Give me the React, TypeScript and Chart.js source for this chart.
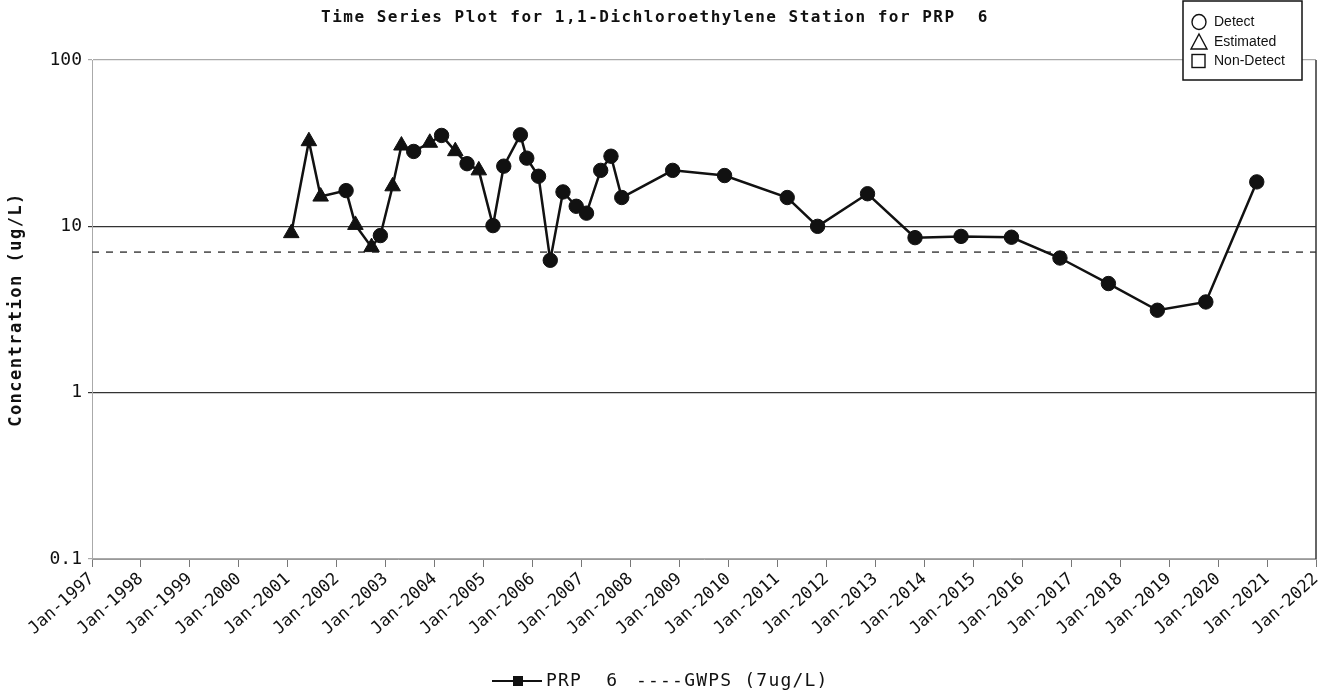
import React, { useEffect, useRef } from 'react';
import { Chart, registerables } from 'chart.js';

Chart.register(...registerables);

const chartTitle = 'Time Series Plot for 1,1-Dichloroethylene Station for PRP  6';
const yAxisTitle = 'Concentration (ug/L)';
const seriesName = 'PRP  6';
const limitName = 'GWPS (7ug/L)';
const qualifierLegend = ['Detect', 'Estimated', 'Non-Detect'];

// sample dates as decimal years
const sampleYears = [
  2001.07, 2001.43, 2001.67, 2002.19, 2002.38, 2002.71, 2002.89, 2003.14,
  2003.32, 2003.57, 2003.9, 2004.14, 2004.42, 2004.66, 2004.9, 2005.19,
  2005.41, 2005.75, 2005.88, 2006.12, 2006.36, 2006.62, 2006.89, 2007.1,
  2007.39, 2007.6, 2007.82, 2008.86, 2009.92, 2011.2, 2011.82, 2012.84,
  2013.81, 2014.75, 2015.78, 2016.77, 2017.76, 2018.76, 2019.75, 2020.79,
];
const concentrations = [
  9.1, 32.5, 15.1, 16.4, 10.2, 7.5, 8.8, 17.4,
  30.6, 28.2, 31.8, 35.2, 28.3, 23.8, 21.7, 10.1,
  23.0, 35.5, 25.7, 20.0, 6.25, 16.1, 13.2, 12.0,
  21.7, 26.4, 14.9, 21.7, 20.2, 14.9, 10.0, 15.7,
  8.55, 8.7, 8.6, 6.45, 4.53, 3.13, 3.51, 18.5,
];
// D = detect, E = estimated
const qualifiers = [
  'E', 'E', 'E', 'D', 'E', 'E', 'D', 'E',
  'E', 'D', 'E', 'D', 'E', 'D', 'E', 'D',
  'D', 'D', 'D', 'D', 'D', 'D', 'D', 'D',
  'D', 'D', 'D', 'D', 'D', 'D', 'D', 'D',
  'D', 'D', 'D', 'D', 'D', 'D', 'D', 'D',
];
const gwpsLimit = 7;
const xTickYears = [
  1997, 1998, 1999, 2000, 2001, 2002, 2003, 2004, 2005, 2006, 2007, 2008, 2009,
  2010, 2011, 2012, 2013, 2014, 2015, 2016, 2017, 2018, 2019, 2020, 2021, 2022,
];
const yTickValues = [0.1, 1, 10, 100];
const xMin = 1997;
const xMax = 2022;

const decorPlugin = {
  id: 'decor',
  afterDraw(chart: any) {
    const { ctx, chartArea } = chart;
    ctx.save();
    // right frame line
    ctx.strokeStyle = '#333';
    ctx.lineWidth = 1.5;
    ctx.beginPath();
    ctx.moveTo(chartArea.right, chartArea.top);
    ctx.lineTo(chartArea.right, chartArea.bottom);
    ctx.stroke();

    // title
    ctx.fillStyle = '#111';
    ctx.font = 'bold 16px "DejaVu Sans Mono"';
    (ctx as any).letterSpacing = '1.5px';
    ctx.textAlign = 'center';
    ctx.textBaseline = 'middle';
    ctx.fillText(chartTitle, 655, 18);

    // y axis title
    ctx.save();
    ctx.translate(17, (chartArea.top + chartArea.bottom) / 2);
    ctx.rotate(-Math.PI / 2);
    ctx.font = 'bold 17px "DejaVu Sans Mono"';
    (ctx as any).letterSpacing = '1.5px';
    ctx.fillText(yAxisTitle, 0, 0);
    ctx.restore();

    // qualifier legend box
    const bx = 1183, by = 1, bw = 119, bh = 79;
    ctx.fillStyle = '#fff';
    ctx.fillRect(bx, by, bw, bh);
    ctx.strokeStyle = '#111';
    ctx.lineWidth = 1.5;
    ctx.strokeRect(bx, by, bw, bh);
    const rows = [22, 42, 61];
    ctx.lineWidth = 1.4;
    ctx.beginPath();
    ctx.ellipse(1199, rows[0], 7, 7.5, 0, 0, Math.PI * 2);
    ctx.stroke();
    ctx.beginPath();
    ctx.moveTo(1199, rows[1] - 8);
    ctx.lineTo(1207, rows[1] + 7);
    ctx.lineTo(1191, rows[1] + 7);
    ctx.closePath();
    ctx.stroke();
    ctx.strokeRect(1192, rows[2] - 6.5, 13, 13);
    ctx.fillStyle = '#111';
    ctx.font = '14px "Liberation Sans", Arial, sans-serif';
    (ctx as any).letterSpacing = '0px';
    ctx.textAlign = 'left';
    ctx.textBaseline = 'middle';
    qualifierLegend.forEach((t, i) => ctx.fillText(t, 1214, rows[i]));

    // bottom series legend
    const ly = 681;
    ctx.strokeStyle = '#111';
    ctx.lineWidth = 2;
    ctx.beginPath();
    ctx.moveTo(492, ly);
    ctx.lineTo(542, ly);
    ctx.stroke();
    ctx.fillRect(513, ly - 5, 10, 10);
    ctx.font = '18px "DejaVu Sans Mono"';
    (ctx as any).letterSpacing = '1.2px';
    ctx.fillText(seriesName, 546, ly);
    ctx.fillText('----' + limitName, 636, ly);
    ctx.restore();
  },
};

export default function App() {
  const canvasRef = useRef<HTMLCanvasElement | null>(null);

  useEffect(() => {
    document.body.style.margin = '0';
    const canvas = canvasRef.current;
    if (!canvas) return;
    const pointStyles = qualifiers.map((q) => (q === 'E' ? 'triangle' : 'circle'));
    const pointRadii = qualifiers.map((q) => (q === 'E' ? 9 : 7.2));
    const chart = new Chart(canvas, {
      type: 'line',
      data: {
        datasets: [
          {
            label: seriesName,
            data: sampleYears.map((x, i) => ({ x, y: concentrations[i] })),
            borderColor: '#111',
            borderWidth: 2.5,
            pointStyle: pointStyles as any,
            pointRadius: pointRadii,
            pointBackgroundColor: '#111',
            pointBorderColor: '#111',
            pointBorderWidth: 1,
            tension: 0,
          },
          {
            label: limitName,
            data: [
              { x: xMin, y: gwpsLimit },
              { x: xMax, y: gwpsLimit },
            ],
            borderColor: '#444',
            borderWidth: 1.5,
            borderDash: [7, 7],
            pointRadius: 0,
          },
        ],
      },
      options: {
        responsive: false,
        animation: false,
        devicePixelRatio: 1,
        layout: { padding: { top: 60, right: 18, left: 0, bottom: 0 } },
        plugins: {
          legend: { display: false },
          tooltip: { enabled: false },
          title: { display: false },
        },
        scales: {
          x: {
            type: 'linear',
            min: xMin,
            max: xMax,
            afterBuildTicks: (axis: any) => {
              axis.ticks = xTickYears.map((v) => ({ value: v }));
            },
            afterFit: (scale: any) => {
              scale.height = 138;
            },
            ticks: {
              autoSkip: false,
              minRotation: 42,
              maxRotation: 42,
              padding: 2,
              color: '#111',
              font: { family: 'DejaVu Sans Mono', size: 17 },
              callback: (v: any) => 'Jan-' + v,
            },
            grid: {
              drawOnChartArea: false,
              drawTicks: true,
              tickLength: 8,
              color: '#777',
            },
            border: { color: '#999', width: 1 },
          },
          y: {
            type: 'logarithmic',
            min: 0.1,
            max: 100,
            afterBuildTicks: (axis: any) => {
              axis.ticks = yTickValues.map((v) => ({ value: v }));
            },
            afterFit: (scale: any) => {
              scale.width = 92;
            },
            ticks: {
              padding: 6,
              color: '#111',
              font: { family: 'DejaVu Sans Mono', size: 18 },
              callback: (v: any) => String(v),
            },
            grid: {
              color: (c: any) =>
                c.tick && (c.tick.value === 10 || c.tick.value === 1) ? '#333' : '#aaa',
              lineWidth: 1.2,
              tickLength: 4,
            },
            border: { color: '#aaa', width: 1 },
          },
        },
      },
      plugins: [decorPlugin],
    });
    return () => chart.destroy();
  }, []);

  return (
    <div style={{ width: 1334, height: 697, background: '#fff' }}>
      <canvas ref={canvasRef} width={1334} height={697} style={{ display: 'block' }} />
    </div>
  );
}
